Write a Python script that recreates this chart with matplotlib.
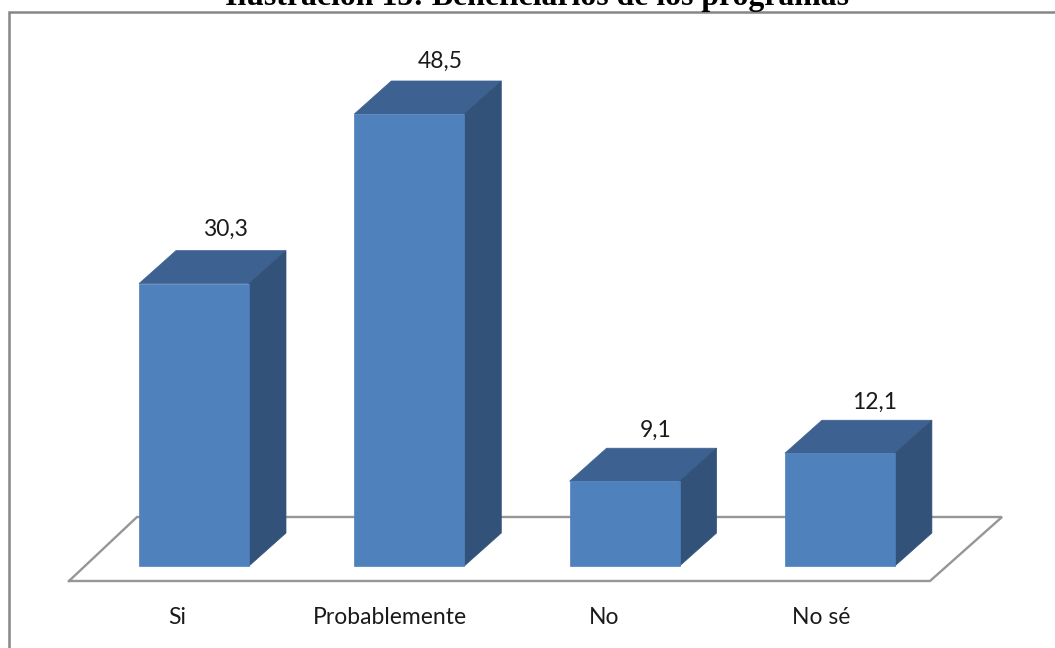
import matplotlib
matplotlib.use("Agg")
import matplotlib.pyplot as plt
from matplotlib.patches import Polygon, Rectangle

categories = ["Si", "Probablemente", "No", "No sé"]
values = [30.3, 48.5, 9.1, 12.1]
value_labels = ["30,3", "48,5", "9,1", "12,1"]
title = "Ilustración 15: Beneficiarios de los programas"

W, H = 1055, 648
fig = plt.figure(figsize=(W / 100, H / 100), dpi=100, facecolor="white")
ax = fig.add_axes([0, 0, 1, 1])
PX_X = 215.3
PX_Y = 9.32
X0, Y0 = 194, 566
ax.set_xlim(-X0 / PX_X, (W - X0) / PX_X)
ax.set_ylim(-(H - Y0) / PX_Y, Y0 / PX_Y)
ax.axis("off")

dx = lambda p: p / PX_X
dy = lambda p: p / PX_Y
FRONT, TOP, SIDE = "#4F81BD", "#3D6291", "#325279"
bw = dx(110)
ddx, ddy = dx(37), dy(33)
FONT = ["Lato", "DejaVu Sans"]
label_shift = [-17, -19, -20, -19]
value_shift = [(31, 54), (31, 53), (31, 51), (35, 51)]

# Outer frame, running off the top-right of the picture
ax.add_patch(Rectangle((dx(9 - X0), dy(Y0 - H - 10)), dx(W + 20), dy(H - 2),
                       fill=False, ec="#868686", lw=1.8, zorder=1))

# Floor of the 3-D plot
fx = [dx(p - X0) for p in (69, 930, 1002, 137, 69)]
fy = [dy(Y0 - p) for p in (581, 581, 517, 517, 581)]
ax.plot(fx, fy, color="#969696", lw=1.7, zorder=2, solid_joinstyle="miter")

for i, (cat, v, lab) in enumerate(zip(categories, values, value_labels)):
    l, r = i - bw / 2, i + bw / 2
    ax.bar(i, v, width=bw, color=FRONT, edgecolor=FRONT, linewidth=0.5, zorder=4)
    ax.add_patch(Polygon([(l, v), (r, v), (r + ddx, v + ddy), (l + ddx, v + ddy)],
                         fc=TOP, ec=TOP, lw=0.5, zorder=3))
    ax.add_patch(Polygon([(r, 0), (r + ddx, ddy), (r + ddx, v + ddy), (r, v)],
                         fc=SIDE, ec=SIDE, lw=0.5, zorder=3))
    sx, sy = value_shift[i]
    ax.text(i + dx(sx), v + dy(sy), lab, ha="center", va="center", fontsize=16.5,
            color="#1a1a1a", family=FONT, zorder=5)
    ax.text(i + dx(label_shift[i]), dy(Y0 - 617), cat, ha="center", va="center",
            fontsize=16.5, color="#1a1a1a", family=FONT, zorder=5)

fig.text(537 / W, 1 - 5 / H, title, ha="center", va="baseline", fontsize=22.9,
         fontweight="bold", family=["Liberation Serif", "DejaVu Serif"], color="black")

fig.savefig("out.png", dpi=100)
